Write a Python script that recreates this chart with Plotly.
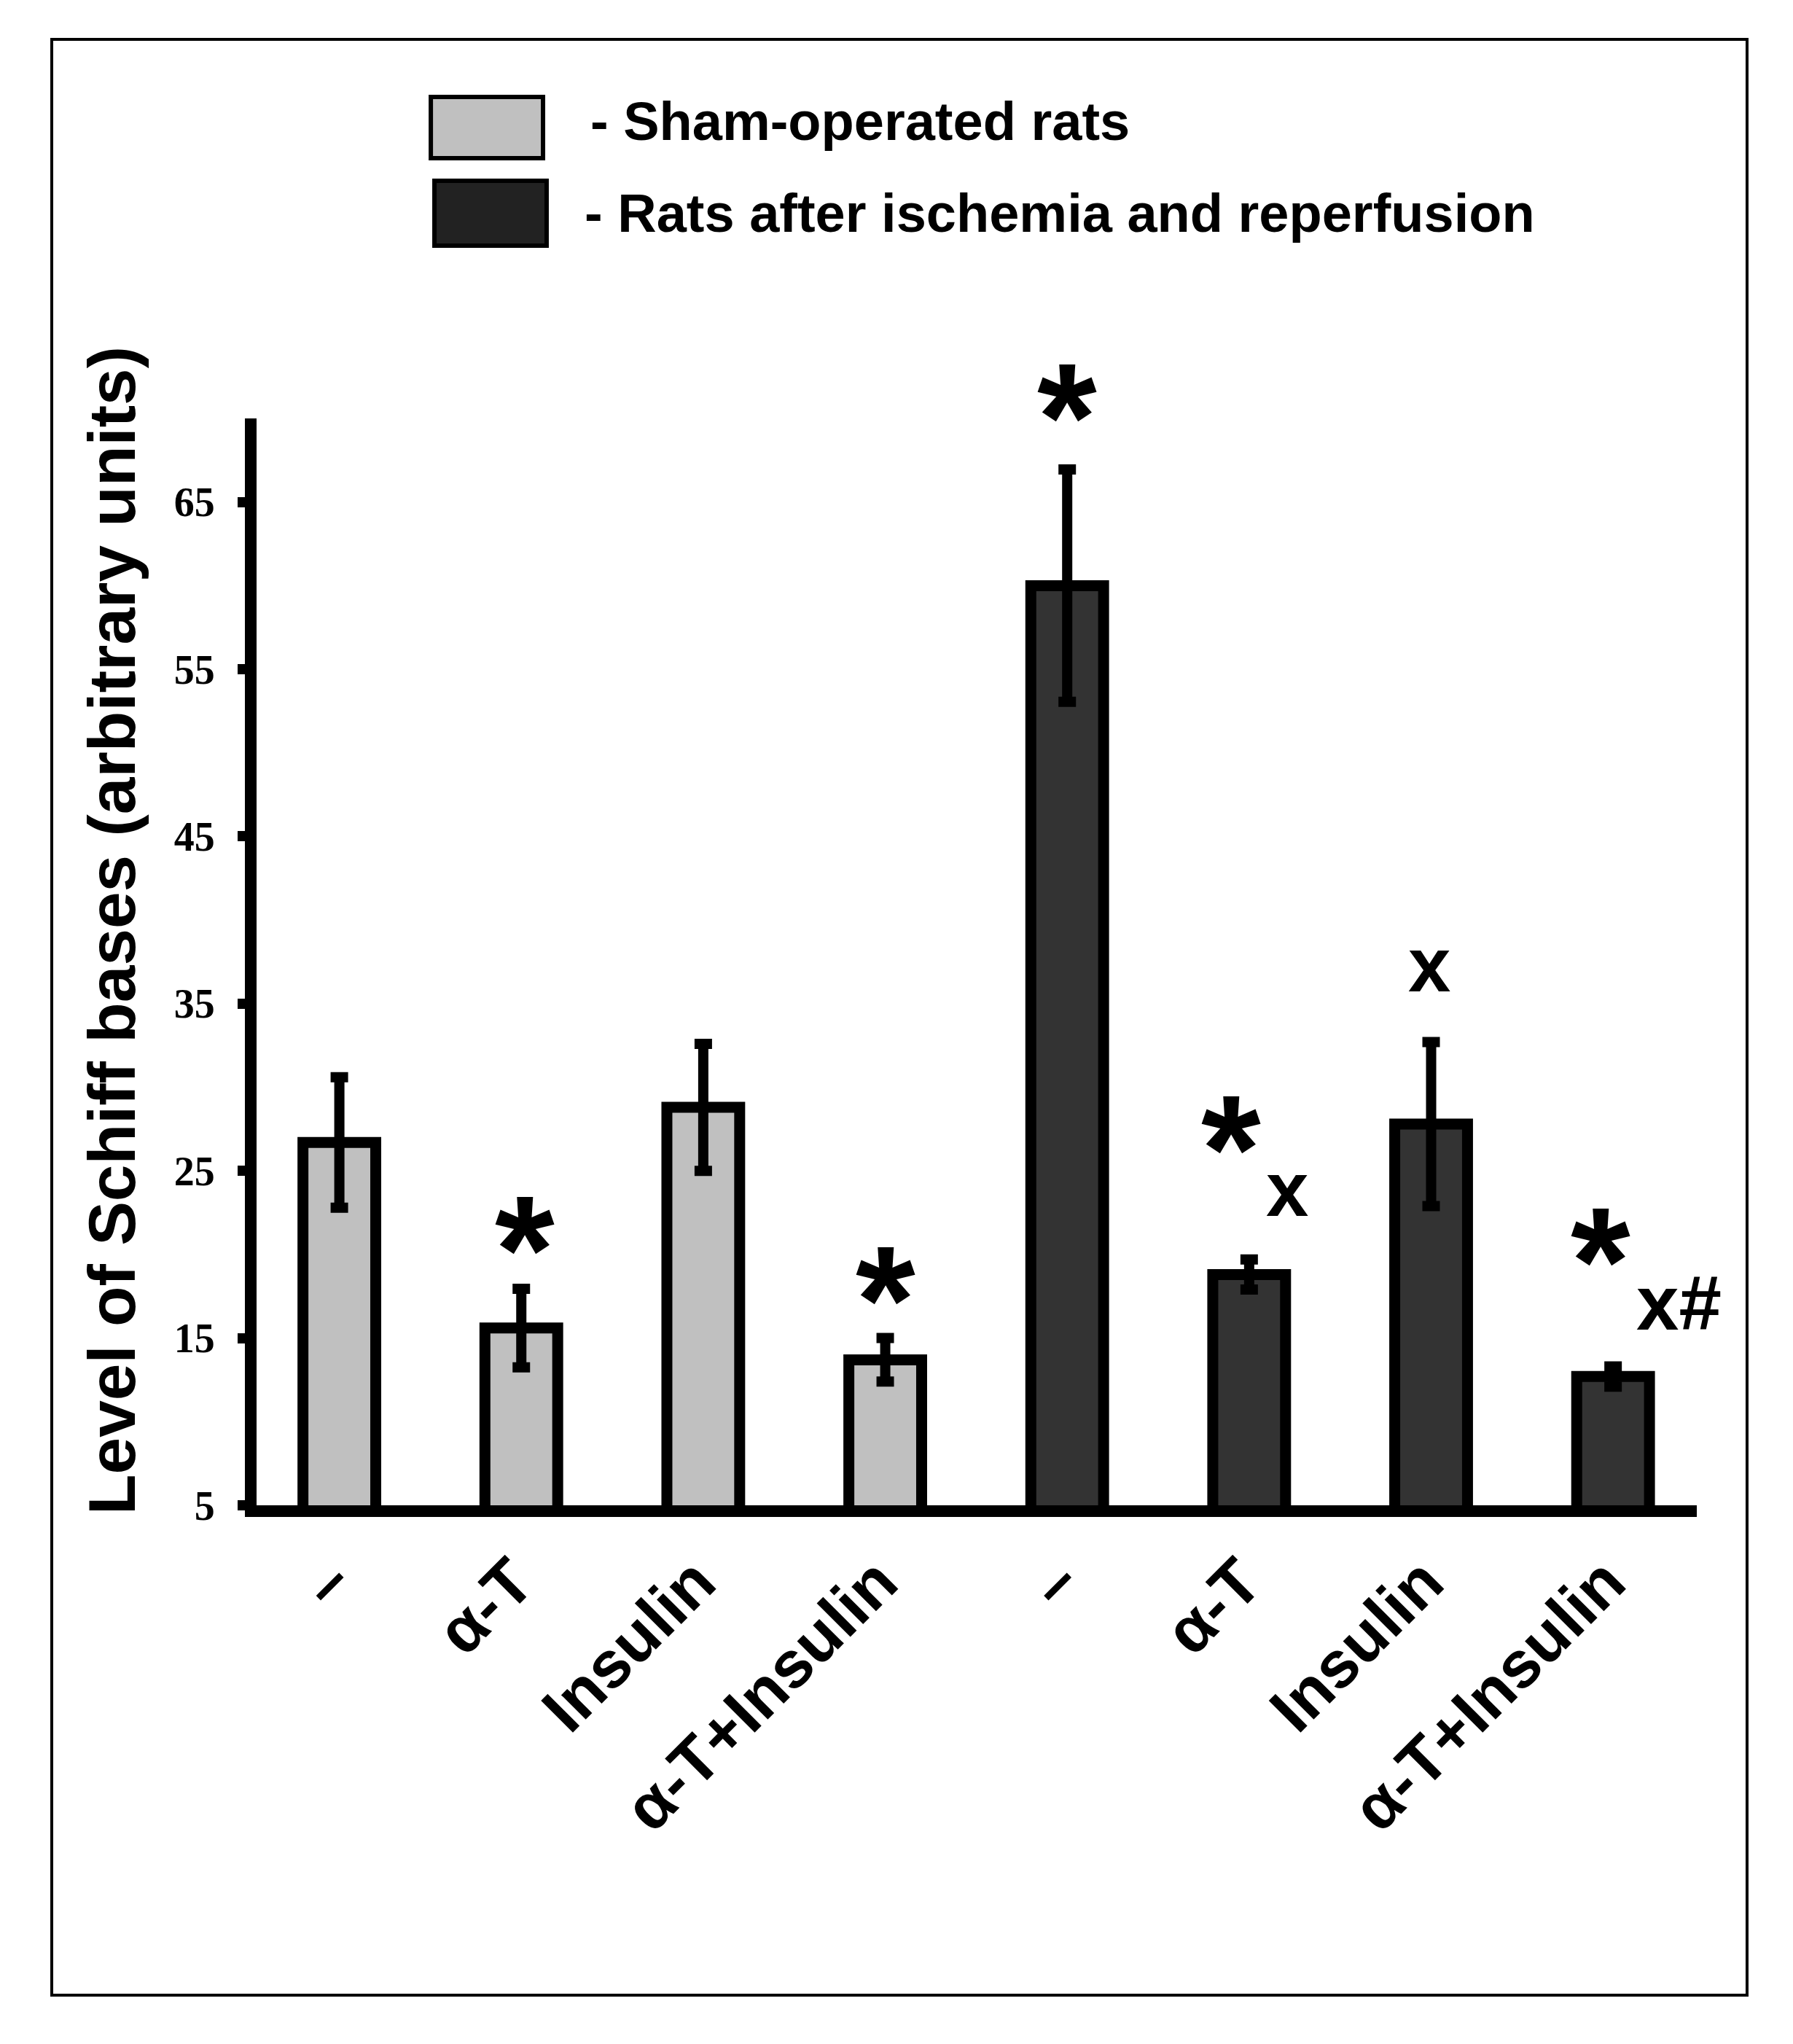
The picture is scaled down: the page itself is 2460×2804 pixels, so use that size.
import plotly.graph_objects as go

# treatment groups (same four treatments for both rat groups)
treatments = ["–", "α-T", "Insulin", "α-T+Insulin"]

# level of Schiff bases, arbitrary units (mean and error)
sham_values = [26.7, 15.6, 28.8, 13.7]
sham_errors = [3.9, 2.35, 3.8, 1.3]
ir_values = [60, 18.8, 27.8, 12.7]
ir_errors = [6.95, 0.9, 4.9, 0.6]

# significance marks placed above the bars (x = bar index, y = value)
mark_text = ["*", "*", "*", "*", "x", "x", "*", "x#"]
mark_x = [1.02, 3.0, 4.0, 4.9, 5.21, 5.99, 6.93, 7.36]
mark_y = [21.9, 18.9, 71.7, 27.9, 23.7, 37.1, 21.2, 17.1]

y_range = [5, 70]
y_ticks = [5, 15, 25, 35, 45, 55, 65]

sham_x = list(range(len(treatments)))
ir_x = [i + len(treatments) for i in sham_x]

bar_line = dict(color="black", width=15)
err_style = dict(type="data", color="black", thickness=14, width=12, visible=True)

fig = go.Figure()
fig.add_trace(go.Bar(x=sham_x, y=sham_values, width=0.40,
                     marker=dict(color="#c0c0c0", line=bar_line),
                     error_y=dict(array=sham_errors, **err_style),
                     name="Sham-operated rats", showlegend=False))
fig.add_trace(go.Bar(x=ir_x, y=ir_values, width=0.40,
                     marker=dict(color="#333333", line=bar_line),
                     error_y=dict(array=ir_errors, **err_style),
                     name="Rats after ischemia and reperfusion", showlegend=False))

# significance marks (y given as fraction of the y axis so marks above the range still show)
for t, x, y in zip(mark_text, mark_x, mark_y):
    if t == "*":
        size, shift = 210, -36
    elif t == "x":
        size, shift = 105, 5
    else:
        size, shift = 105, 0
    fig.add_annotation(x=x, xref="x", yref="y domain",
                       y=(y - y_range[0]) / (y_range[1] - y_range[0]),
                       text=t, showarrow=False, xanchor="center",
                       yanchor="middle", yshift=shift,
                       font=dict(family="Liberation Sans, Arial", size=size,
                                 color="black", weight="bold"))

# y axis title
fig.add_annotation(xref="paper", yref="paper", x=-0.1007, y=0.5285,
                   text="Level of Schiff bases (arbitrary units)", textangle=-90,
                   showarrow=False, xanchor="center", yanchor="middle",
                   font=dict(family="Liberation Sans, Arial", size=91, color="black",
                             weight="bold"))

# legend drawn as boxes + text
legend_font = dict(family="Liberation Sans, Arial", size=74, color="black", weight="bold")
fig.add_shape(type="rect", xref="paper", yref="paper", x0=0.1210, x1=0.1989,
              y0=1.2394, y1=1.2958, fillcolor="#c0c0c0", line=dict(color="black", width=6))
fig.add_shape(type="rect", xref="paper", yref="paper", x0=0.1235, x1=0.2014,
              y0=1.1590, y1=1.2186, fillcolor="#222222", line=dict(color="black", width=6))
fig.add_annotation(xref="paper", yref="paper", x=0.2308, y=1.2736, text="- Sham-operated rats",
                   showarrow=False, xanchor="left", yanchor="middle", font=legend_font)
fig.add_annotation(xref="paper", yref="paper", x=0.2267, y=1.1885,
                   text="- Rats after ischemia and reperfusion",
                   showarrow=False, xanchor="left", yanchor="middle", font=legend_font)

# outer frame
fig.add_shape(type="rect", xref="paper", yref="paper", x0=-0.1422, x1=1.0349,
              y0=-0.4507, y1=1.3488, line=dict(color="black", width=4))

fig.update_layout(
    width=2452, height=2796,
    margin=dict(l=344, r=132, t=566, b=739),
    paper_bgcolor="white", plot_bgcolor="white",
    barmode="overlay",
    font=dict(family="Liberation Sans, Arial", color="black"),
    xaxis=dict(range=[-0.455, 7.46], showline=True, linewidth=16, linecolor="black",
               ticks="", showgrid=False, zeroline=False,
               tickvals=sham_x + ir_x, ticktext=treatments + treatments,
               tickangle=-45, ticklabelshift=-10,
               tickfont=dict(family="Liberation Sans, Arial", size=90, weight="bold")),
    yaxis=dict(range=y_range, showline=True, linewidth=16, linecolor="black",
               ticks="outside", ticklen=10, tickwidth=14, tickcolor="black",
               tickvals=y_ticks, showgrid=False, zeroline=False,
               ticklabelstandoff=20,
               tickfont=dict(family="Liberation Serif, Times New Roman", size=56,
                             weight="bold")),
)

fig.write_html("out.html")
